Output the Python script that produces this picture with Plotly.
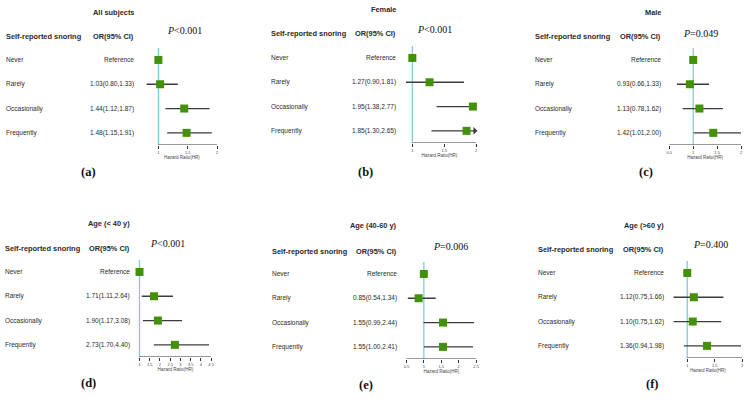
import plotly.graph_objects as go

# ---------------- data ----------------
ROWS = ["Never", "Rarely", "Occasionally", "Frequently"]
ROW_POS = [4, 3, 2, 1]

TITLES = ["All subjects", "Female", "Male", "Age (< 40 y)", "Age (40-60 y)", "Age (>60 y)"]
TAGS = ["(a)", "(b)", "(c)", "(d)", "(e)", "(f)"]
P_TEXT = ["&lt;0.001", "&lt;0.001", "=0.049", "&lt;0.001", "=0.006", "=0.400"]

OR_A = [1.00, 1.03, 1.44, 1.48]
LO_A = [1.00, 0.80, 1.12, 1.15]
HI_A = [1.00, 1.33, 1.87, 1.91]

OR_B = [1.00, 1.27, 1.95, 1.85]
LO_B = [1.00, 0.90, 1.38, 1.30]
HI_B = [1.00, 1.81, 2.77, 2.65]

OR_C = [1.00, 0.93, 1.13, 1.42]
LO_C = [1.00, 0.66, 0.78, 1.01]
HI_C = [1.00, 1.33, 1.62, 2.00]

OR_D = [1.00, 1.71, 1.90, 2.73]
LO_D = [1.00, 1.11, 1.17, 1.70]
HI_D = [1.00, 2.64, 3.08, 4.40]

OR_E = [1.00, 0.85, 1.55, 1.55]
LO_E = [1.00, 0.54, 0.99, 1.00]
HI_E = [1.00, 1.34, 2.44, 2.41]

OR_F = [1.00, 1.12, 1.10, 1.36]
LO_F = [1.00, 0.75, 0.75, 0.94]
HI_F = [1.00, 1.66, 1.62, 1.98]

TICKS = [
    [1, 1.5, 2],
    [1, 1.5, 2],
    [0.5, 1, 1.5, 2],
    [1, 1.5, 2, 2.5, 3, 3.5, 4, 4.5],
    [0.5, 1, 1.5, 2, 2.5],
    [1, 1.5, 2],
]
REF = 1.0

PANELS = [
    (OR_A, LO_A, HI_A), (OR_B, LO_B, HI_B), (OR_C, LO_C, HI_C),
    (OR_D, LO_D, HI_D), (OR_E, LO_E, HI_E), (OR_F, LO_F, HI_F),
]
ARROWS = [(1, 3)]  # (panel, row) drawn with an arrow beyond the axis

# ---------------- geometry (pixels) ----------------
W, H = 750, 405
XRANGE = [[0.7, 2.1], [0.85, 2.0], [0.45, 2.05], [0.9, 4.6], [0.45, 2.55], [0.7, 2.05]]
XPIX = [[140.3, 222.9], [403.4, 477.0], [668.6, 745.4], [137.0, 213.0], [405.3, 478.8], [672.5, 746.8]]
AXIS_Y = [145, 143, 145, 357, 359, 358]
ROW_H = 24.3
LABEL_X = [3, 269, 534, 2, 270, 537]
OR_X = [136, 399, 665, 132, 400, 668]
TITLE_Y = [12, 9, 12, 223, 225, 225]
HEAD_Y = [36, 33, 36, 248, 251, 249]
P_X = [165, 416, 683, 148, 432, 693]
P_Y = [31, 29, 33, 243, 246, 244]
TAG_X = [88, 366, 648, 88, 366, 654]
TAG_Y = [172, 172, 172, 383, 385, 384]

SANS = "Liberation Sans"
SERIF = "Liberation Serif"
TXT = "#2a2a2a"
GREEN = "#43900a"
LINEC = "#3c3c3c"
BLUE = "#86cbdb"

def px(x):
    return x / W

def py(y):
    return 1 - y / H

fig = go.Figure()
annotations = []
shapes = []
layout = {}

for i, (orv, lo, hi) in enumerate(PANELS):
    sfx = "" if i == 0 else str(i + 1)
    xa, ya = "x" + sfx, "y" + sfx
    # reference line
    fig.add_trace(go.Scatter(x=[REF, REF], y=[0.5, 4.5], mode="lines",
                             line=dict(color=BLUE, width=1.3), xaxis=xa, yaxis=ya,
                             showlegend=False, hoverinfo="skip"))
    # CI lines
    for r in range(1, 4):
        fig.add_trace(go.Scatter(x=[lo[r], hi[r]], y=[ROW_POS[r], ROW_POS[r]], mode="lines",
                                 line=dict(color=LINEC, width=1.3), xaxis=xa, yaxis=ya,
                                 showlegend=False, hoverinfo="skip"))
    # point estimates
    fig.add_trace(go.Scatter(x=orv, y=ROW_POS, mode="markers",
                             marker=dict(symbol="square", size=8, color=GREEN),
                             cliponaxis=False, xaxis=xa, yaxis=ya, showlegend=False))
    # axis baseline
    shapes.append(dict(type="line", xref=xa, yref=ya, x0=TICKS[i][0], x1=TICKS[i][-1],
                       y0=0.5, y1=0.5, line=dict(color="#333333", width=1)))

    x0p, x1p = XPIX[i]
    layout["xaxis" + sfx] = dict(
        domain=[px(x0p), px(x1p)], range=XRANGE[i], anchor=ya,
        showgrid=False, zeroline=False, showline=False,
        tickmode="array", tickvals=TICKS[i], ticktext=[f"{t:g}" for t in TICKS[i]],
        ticks="outside", ticklen=3, tickwidth=1, tickcolor="#333333",
        tickfont=dict(family=SANS, size=4, color="#444444"),
        title=dict(text="Hazard Ratio(HR)", font=dict(family=SANS, size=4.5, color="#444444"),
                   standoff=1),
        fixedrange=True,
    )
    layout["yaxis" + sfx] = dict(
        domain=[py(AXIS_Y[i]), py(AXIS_Y[i] - 4 * ROW_H)], range=[0.5, 4.5], anchor=xa,
        showgrid=False, zeroline=False, showline=False, showticklabels=False, ticks="",
        fixedrange=True,
    )

    # row labels and OR text
    for r in range(4):
        annotations.append(dict(text=ROWS[r], xref="paper", yref=ya, x=px(LABEL_X[i]), y=ROW_POS[r],
                                xanchor="left", yanchor="middle", showarrow=False,
                                font=dict(family=SANS, size=6.5, color=TXT)))
        txt = "Reference" if r == 0 else f"{orv[r]:.2f}({lo[r]:.2f},{hi[r]:.2f})"
        annotations.append(dict(text=txt, xref="paper", yref=ya, x=px(OR_X[i]), y=ROW_POS[r],
                                xanchor="right", yanchor="middle", showarrow=False,
                                font=dict(family=SANS, size=6.5, color=TXT)))
    # headers
    annotations.append(dict(text="<b>Self-reported snoring</b>", xref="paper", yref="paper",
                            x=px(LABEL_X[i]), y=py(HEAD_Y[i]), xanchor="left", yanchor="middle",
                            showarrow=False, font=dict(family=SANS, size=7.4, color=TXT)))
    annotations.append(dict(text="<b>OR(95% CI)</b>", xref="paper", yref="paper",
                            x=px(OR_X[i]), y=py(HEAD_Y[i]), xanchor="right", yanchor="middle",
                            showarrow=False, font=dict(family=SANS, size=7.4, color=TXT)))
    annotations.append(dict(text=f"<b>{TITLES[i]}</b>", xref="paper", yref="paper",
                            x=px(OR_X[i]), y=py(TITLE_Y[i]), xanchor="right", yanchor="middle",
                            showarrow=False, font=dict(family=SANS, size=7.4, color=TXT)))
    annotations.append(dict(text=f"<i>P</i>{P_TEXT[i]}", xref="paper", yref="paper",
                            x=px(P_X[i]), y=py(P_Y[i]), xanchor="left", yanchor="middle",
                            showarrow=False, font=dict(family=SERIF, size=10, color="#111111")))
    annotations.append(dict(text=f"<b>{TAGS[i]}</b>", xref="paper", yref="paper",
                            x=px(TAG_X[i]), y=py(TAG_Y[i]), xanchor="center", yanchor="middle",
                            showarrow=False, font=dict(family=SERIF, size=12.5, color="#111111")))

for (pi, r) in ARROWS:
    sfx = "" if pi == 0 else str(pi + 1)
    xa, ya = "x" + sfx, "y" + sfx
    annotations.append(dict(x=XRANGE[pi][1] + 0.02, y=ROW_POS[r], xref=xa, yref=ya,
                            ax=XRANGE[pi][1] - 0.05, ay=ROW_POS[r], axref=xa, ayref=ya,
                            text="", showarrow=True, arrowhead=1, arrowsize=1,
                            arrowwidth=1.3, arrowcolor=LINEC))

fig.update_layout(
    width=W, height=H, margin=dict(l=0, r=0, t=0, b=0),
    paper_bgcolor="white", plot_bgcolor="white",
    annotations=annotations, shapes=shapes, showlegend=False,
    **layout,
)

fig.write_html("out.html")
